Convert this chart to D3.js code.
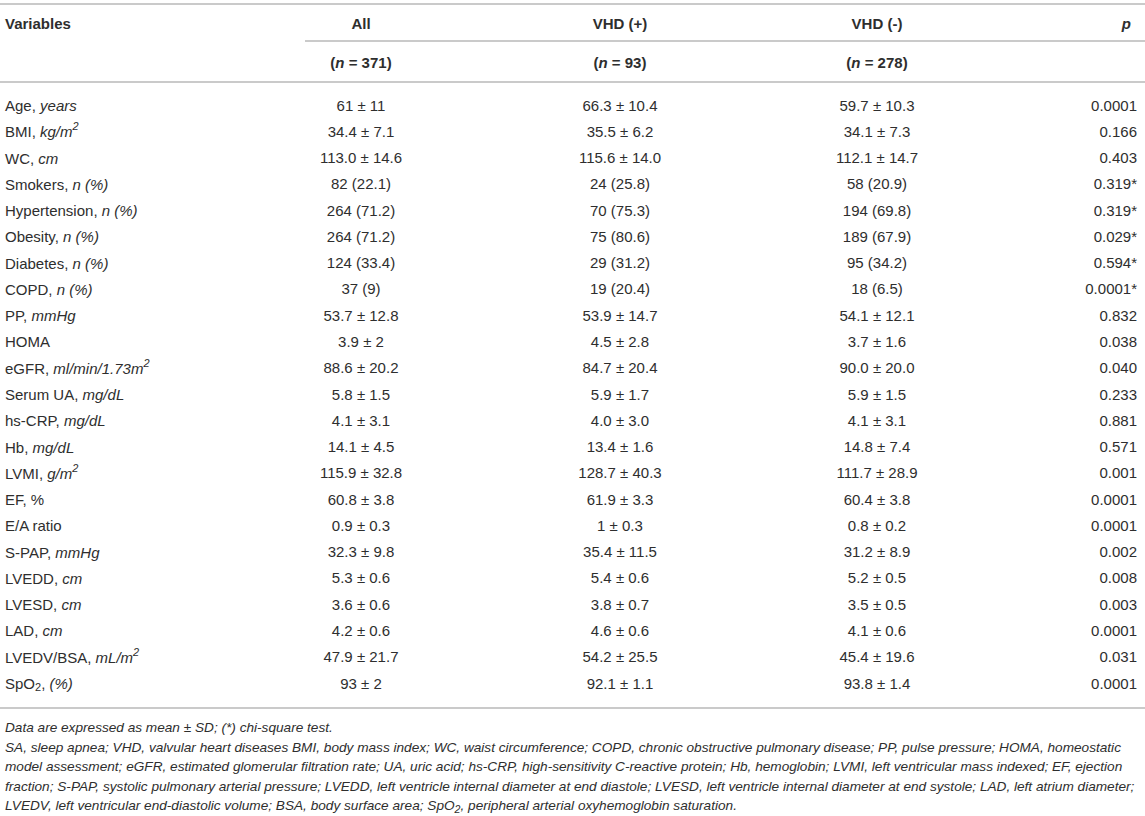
<!DOCTYPE html>
<html>
<head>
<meta charset="utf-8">
<script src="https://cdn.jsdelivr.net/npm/d3@7"></script>
<style>
  body { margin: 0; background: #fff; }
  svg { display: block; font-family: "Liberation Sans", Arial, sans-serif; }
</style>
</head>
<body>
<svg></svg>
<script>
// table content
let names = ["Age", "BMI", "WC", "Smokers", "Hypertension", "Obesity", "Diabetes", "COPD",
  "PP", "HOMA", "eGFR", "Serum UA", "hs-CRP", "Hb", "LVMI", "EF, %", "E/A ratio", "S-PAP",
  "LVEDD", "LVESD", "LAD", "LVEDV/BSA", "SpO_2"];
let units = ["years", "kg/m^2", "cm", "n (%)", "n (%)", "n (%)", "n (%)", "n (%)",
  "mmHg", "", "ml/min/1.73m^2", "mg/dL", "mg/dL", "mg/dL", "g/m^2", "", "", "mmHg",
  "cm", "cm", "cm", "mL/m^2", "(%)"];
let allVals = ["61 ± 11", "34.4 ± 7.1", "113.0 ± 14.6", "82 (22.1)", "264 (71.2)", "264 (71.2)",
  "124 (33.4)", "37 (9)", "53.7 ± 12.8", "3.9 ± 2", "88.6 ± 20.2", "5.8 ± 1.5", "4.1 ± 3.1",
  "14.1 ± 4.5", "115.9 ± 32.8", "60.8 ± 3.8", "0.9 ± 0.3", "32.3 ± 9.8", "5.3 ± 0.6",
  "3.6 ± 0.6", "4.2 ± 0.6", "47.9 ± 21.7", "93 ± 2"];
let vhdPos = ["66.3 ± 10.4", "35.5 ± 6.2", "115.6 ± 14.0", "24 (25.8)", "70 (75.3)", "75 (80.6)",
  "29 (31.2)", "19 (20.4)", "53.9 ± 14.7", "4.5 ± 2.8", "84.7 ± 20.4", "5.9 ± 1.7", "4.0 ± 3.0",
  "13.4 ± 1.6", "128.7 ± 40.3", "61.9 ± 3.3", "1 ± 0.3", "35.4 ± 11.5", "5.4 ± 0.6",
  "3.8 ± 0.7", "4.6 ± 0.6", "54.2 ± 25.5", "92.1 ± 1.1"];
let vhdNeg = ["59.7 ± 10.3", "34.1 ± 7.3", "112.1 ± 14.7", "58 (20.9)", "194 (69.8)", "189 (67.9)",
  "95 (34.2)", "18 (6.5)", "54.1 ± 12.1", "3.7 ± 1.6", "90.0 ± 20.0", "5.9 ± 1.5", "4.1 ± 3.1",
  "14.8 ± 7.4", "111.7 ± 28.9", "60.4 ± 3.8", "0.8 ± 0.2", "31.2 ± 8.9", "5.2 ± 0.5",
  "3.5 ± 0.5", "4.1 ± 0.6", "45.4 ± 19.6", "93.8 ± 1.4"];
let pVals = ["0.0001", "0.166", "0.403", "0.319*", "0.319*", "0.029*", "0.594*", "0.0001*",
  "0.832", "0.038", "0.040", "0.233", "0.881", "0.571", "0.001", "0.0001", "0.0001", "0.002",
  "0.008", "0.003", "0.0001", "0.031", "0.0001"];
let groups = ["All", "VHD (+)", "VHD (-)"];
let groupN = ["371", "93", "278"];
let notes = [
  "Data are expressed as mean ± SD; (*) chi-square test.",
  "SA, sleep apnea; VHD, valvular heart diseases BMI, body mass index; WC, waist circumference; COPD, chronic obstructive pulmonary disease; PP, pulse pressure; HOMA, homeostatic",
  "model assessment; eGFR, estimated glomerular filtration rate; UA, uric acid; hs-CRP, high-sensitivity C-reactive protein; Hb, hemoglobin; LVMI, left ventricular mass indexed; EF, ejection",
  "fraction; S-PAP, systolic pulmonary arterial pressure; LVEDD, left ventricle internal diameter at end diastole; LVESD, left ventricle internal diameter at end systole; LAD, left atrium diameter;",
  "LVEDV, left ventricular end-diastolic volume; BSA, body surface area; SpO_2, peripheral arterial oxyhemoglobin saturation."
];

let width = 1145,
  height = 816;

let svg = d3.select("svg").attr("width", width).attr("height", height);

let textColor = "#2e2e2e",
  lineColor = "#b8b8b8",
  fs = 15;

let y = d3.scalePoint().domain(d3.range(names.length)).range([105, 683]);

// x anchors of the columns
let colX = [361, 620, 877];
let pX = 1137;

// writes a string into a text element, "^2" -> superscript, "_2" -> subscript
// the baseline is put back on the next piece of text (kept on the node)
function rich(sel, str, style) {
  let node = sel.node();
  str.split(/([\^_]\d)/).forEach((s) => {
    if (s === "") return;
    let t = sel.append("tspan").attr("font-style", style);
    if (node.__shift) { t.attr("dy", node.__shift); node.__shift = 0; }
    if (s[0] === "^" || s[0] === "_") {
      let d = s[0] === "^" ? -5 : 4;
      t.attr("class", "script").attr("font-size", fs - 4).attr("dy", d).text(s[1]);
      node.__shift = -d;
    } else {
      t.text(s);
    }
  });
}

// rules
let rules = [
  { x1: 0, x2: width, y: 4 },
  { x1: 305, x2: width, y: 41 },
  { x1: 0, x2: width, y: 82 },
  { x1: 0, x2: width, y: 708 }
];
svg.append("g")
  .selectAll("line")
  .data(rules)
  .enter()
  .append("line")
  .attr("x1", (d) => d.x1)
  .attr("x2", (d) => d.x2)
  .attr("y1", (d) => d.y)
  .attr("y2", (d) => d.y)
  .attr("stroke", lineColor)
  .attr("stroke-width", 1.5);

// header
let head = svg.append("g")
  .attr("font-size", fs)
  .attr("font-weight", "bold")
  .attr("fill", textColor)
  .attr("dominant-baseline", "central");

head.append("text").attr("x", 5).attr("y", 23).text("Variables");

head.selectAll(".grp")
  .data(groups)
  .enter()
  .append("text")
  .attr("class", "grp")
  .attr("x", (d, i) => colX[i])
  .attr("y", 23)
  .attr("text-anchor", "middle")
  .text((d) => d);

head.append("text")
  .attr("x", pX - 6)
  .attr("y", 23)
  .attr("text-anchor", "end")
  .attr("font-style", "italic")
  .text("p");

head.selectAll(".num")
  .data(groupN)
  .enter()
  .append("text")
  .attr("class", "num")
  .attr("x", (d, i) => colX[i])
  .attr("y", 62)
  .attr("text-anchor", "middle")
  .each(function (d) {
    let t = d3.select(this);
    t.append("tspan").text("(");
    t.append("tspan").attr("font-style", "italic").text("n");
    t.append("tspan").text(" = " + d + ")");
  });

// body rows
let body = svg.append("g")
  .attr("font-size", fs)
  .attr("fill", textColor)
  .attr("dominant-baseline", "central");

body.selectAll(".label")
  .data(names)
  .enter()
  .append("text")
  .attr("class", "label")
  .attr("x", 5)
  .attr("y", (d, i) => y(i))
  .each(function (d, i) {
    let t = d3.select(this);
    rich(t, d, "normal");
    if (units[i] !== "") {
      rich(t, ", ", "normal");
      rich(t, units[i], "italic");
    }
  });

[allVals, vhdPos, vhdNeg].forEach((col, c) => {
  body.selectAll(".c" + c)
    .data(col)
    .enter()
    .append("text")
    .attr("class", "c" + c)
    .attr("x", colX[c])
    .attr("y", (d, i) => y(i))
    .attr("text-anchor", "middle")
    .text((d) => d);
});

body.selectAll(".pv")
  .data(pVals)
  .enter()
  .append("text")
  .attr("class", "pv")
  .attr("x", pX)
  .attr("y", (d, i) => y(i))
  .attr("text-anchor", "end")
  .text((d) => d);

// footnotes, sized so the wrapped lines fill the width like the source
let foot = svg.append("g")
  .attr("fill", textColor)
  .attr("font-size", 14)
  .attr("dominant-baseline", "central");

let noteLines = foot.selectAll("text")
  .data(notes)
  .enter()
  .append("text")
  .attr("x", 5)
  .attr("y", (d, i) => 727 + i * 19.5)
  .each(function (d) {
    rich(d3.select(this), d, "italic");
  });

let widest = d3.max(noteLines.nodes(), (n) => n.getComputedTextLength());
let noteSize = Math.min(14, 14 * 1130 / widest);
foot.attr("font-size", noteSize);
foot.selectAll("tspan.script").attr("font-size", noteSize - 3);
</script>
</body>
</html>
